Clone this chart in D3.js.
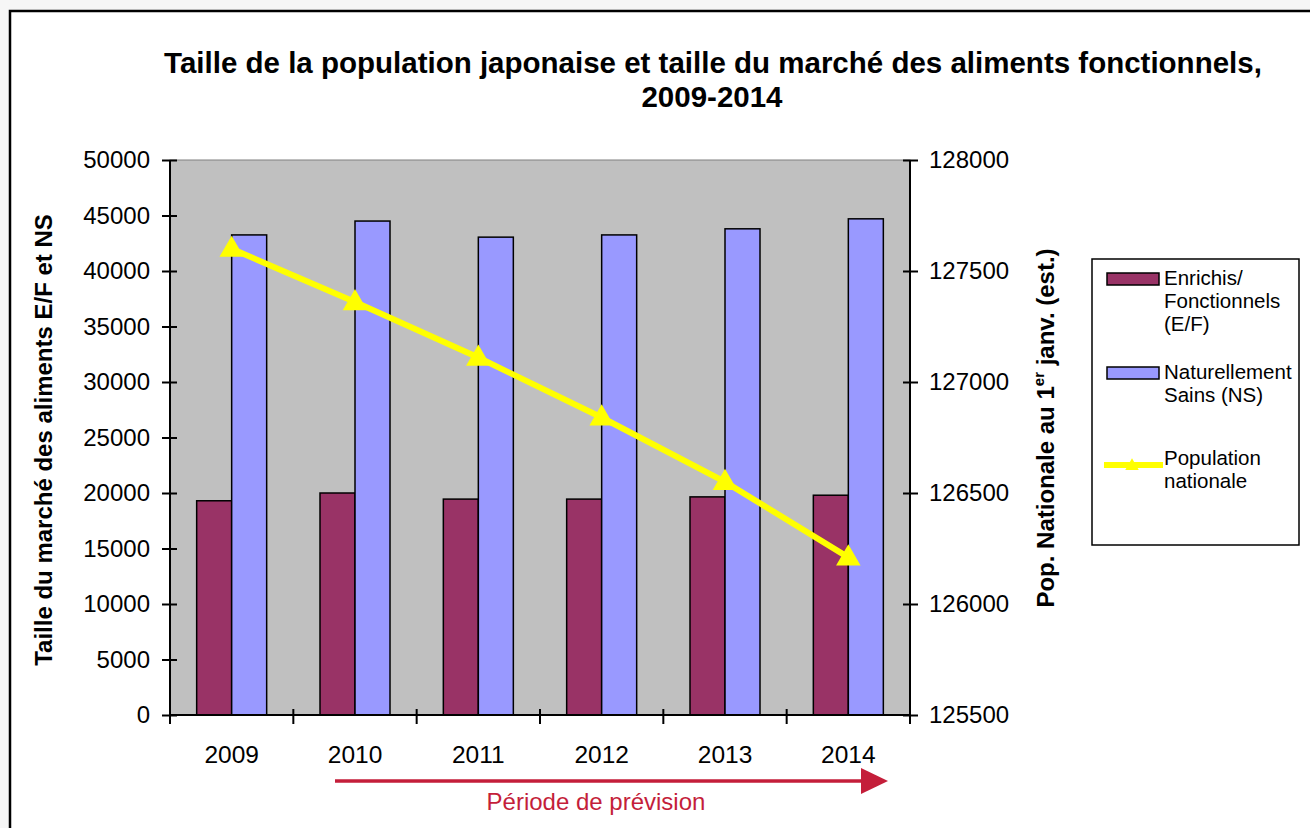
<!DOCTYPE html>
<html>
<head>
<meta charset="utf-8">
<script src="https://cdn.jsdelivr.net/npm/d3@7"></script>
<style>
  html, body { margin: 0; padding: 0; background: #f6f6f6; }
  svg { display: block; font-family: "Liberation Sans", Arial, sans-serif; }
</style>
</head>
<body>
<svg id="chart" width="1310" height="828"></svg>
<script>
const years = ["2009", "2010", "2011", "2012", "2013", "2014"];
const enrichis = [19300, 20000, 19450, 19450, 19650, 19800];
const naturels = [43250, 44500, 43050, 43250, 43800, 44700];
const population = [127600, 127360, 127110, 126840, 126550, 126210];
const leftTicks = [0, 5000, 10000, 15000, 20000, 25000, 30000, 35000, 40000, 45000, 50000];
const rightTicks = [125500, 126000, 126500, 127000, 127500, 128000];
const seriesNames = ["Enrichis/|Fonctionnels|(E/F)", "Naturellement|Sains (NS)", "Population|nationale"];

const svg = d3.select("#chart");
const W = 1310, H = 828;

// chart frame
svg.append("rect").attr("x", 10).attr("y", 11).attr("width", W + 10).attr("height", H + 10)
  .attr("fill", "#ffffff").attr("stroke", "#000").attr("stroke-width", 2.5);

const P = { left: 170, right: 910, top: 160, bottom: 715 };

const x = d3.scaleBand().domain(years).range([P.left, P.right]).paddingInner(0).paddingOuter(0);
const yL = d3.scaleLinear().domain([0, 50000]).range([P.bottom, P.top]);
const yR = d3.scaleLinear().domain([125500, 128000]).range([P.bottom, P.top]);

// plot background
svg.append("rect").attr("x", P.left).attr("y", P.top).attr("width", P.right - P.left)
  .attr("height", P.bottom - P.top).attr("fill", "#c0c0c0").attr("stroke", "#808080").attr("stroke-width", 1);

// bars
const bw = 35;
const g = svg.append("g");
g.selectAll("rect.ef").data(years).join("rect").attr("class", "ef")
  .attr("x", d => x(d) + x.bandwidth() / 2 - bw)
  .attr("y", (d, i) => yL(enrichis[i]))
  .attr("width", bw).attr("height", (d, i) => yL(0) - yL(enrichis[i]))
  .attr("fill", "#993366").attr("stroke", "#000").attr("stroke-width", 1.5);
g.selectAll("rect.ns").data(years).join("rect").attr("class", "ns")
  .attr("x", d => x(d) + x.bandwidth() / 2)
  .attr("y", (d, i) => yL(naturels[i]))
  .attr("width", bw).attr("height", (d, i) => yL(0) - yL(naturels[i]))
  .attr("fill", "#9999ff").attr("stroke", "#000").attr("stroke-width", 1.5);

// axes
const axL = svg.append("g").attr("transform", `translate(${P.left},0)`)
  .call(d3.axisLeft(yL).tickValues(leftTicks).tickFormat(d3.format("d")).tickSize(8).tickPadding(12));
axL.selectAll(".tick line").attr("x2", -8).attr("x1", 7).attr("stroke", "#000").attr("stroke-width", 2);
axL.select(".domain").attr("d", `M0,${P.top}V${P.bottom}`).attr("stroke", "#000").attr("stroke-width", 2);
axL.selectAll("text").attr("font-size", 24).attr("fill", "#000").attr("x", -20);

const axR = svg.append("g").attr("transform", `translate(${P.right},0)`)
  .call(d3.axisRight(yR).tickValues(rightTicks).tickFormat(d3.format("d")).tickSize(8));
axR.selectAll(".tick line").attr("x1", -7).attr("x2", 8).attr("stroke", "#000").attr("stroke-width", 2);
axR.select(".domain").attr("d", `M0,${P.top}V${P.bottom}`).attr("stroke", "#000").attr("stroke-width", 2);
axR.selectAll("text").attr("font-size", 24).attr("fill", "#000").attr("x", 19);

const axB = svg.append("g").attr("transform", `translate(0,${P.bottom})`)
  .call(d3.axisBottom(x).tickSize(0));
axB.select(".domain").attr("d", `M${P.left},0H${P.right}`).attr("stroke", "#000").attr("stroke-width", 2);
axB.selectAll("text").attr("font-size", 24.5).attr("fill", "#000").attr("y", 31);
// tick marks between categories
const bounds = years.map(d => x(d)).concat([P.right]);
axB.selectAll("line.sep").data(bounds).join("line").attr("class", "sep")
  .attr("x1", d => d).attr("x2", d => d).attr("y1", -6).attr("y2", 9)
  .attr("stroke", "#000").attr("stroke-width", 2);

// population line
const pts = years.map((d, i) => [x(d) + x.bandwidth() / 2, yR(population[i])]);
svg.append("path").attr("d", d3.line()(pts)).attr("fill", "none")
  .attr("stroke", "#ffff00").attr("stroke-width", 6);
const tri = d3.symbol().type(d3.symbolTriangle).size(260);
svg.selectAll("path.mk").data(pts).join("path").attr("class", "mk")
  .attr("d", tri).attr("transform", d => `translate(${d[0]},${d[1] + 1})`)
  .attr("fill", "#ffff00");

// title
const title = svg.append("text").attr("text-anchor", "middle").attr("font-weight", "bold")
  .attr("font-size", 29.5).attr("fill", "#000");
title.append("tspan").attr("x", 713).attr("y", 73)
  .text("Taille de la population japonaise et taille du marché des aliments fonctionnels,");
title.append("tspan").attr("x", 712).attr("y", 107).text("2009-2014");

// axis titles
svg.append("text").attr("transform", "translate(52,440) rotate(-90)").attr("text-anchor", "middle")
  .attr("font-weight", "bold").attr("font-size", 24).attr("fill", "#000")
  .text("Taille du marché des aliments E/F et NS");
const rt = svg.append("text").attr("transform", "translate(1054,428) rotate(-90)").attr("text-anchor", "middle")
  .attr("font-weight", "bold").attr("font-size", 24).attr("fill", "#000");
rt.append("tspan").text("Pop. Nationale au 1");
rt.append("tspan").attr("font-size", 15).attr("dy", -10).text("er");
rt.append("tspan").attr("dy", 10).text(" janv. (est.)");

// legend
const lg = svg.append("g");
lg.append("rect").attr("x", 1092).attr("y", 259).attr("width", 207).attr("height", 286)
  .attr("fill", "#fff").attr("stroke", "#000").attr("stroke-width", 1.5);
const legendY = [273, 367, 465];
const legendColors = ["#993366", "#9999ff", "#ffff00"];
seriesNames.forEach((name, i) => {
  if (i < 2) {
    lg.append("rect").attr("x", 1107).attr("y", legendY[i]).attr("width", 52).attr("height", 12)
      .attr("fill", legendColors[i]).attr("stroke", "#000").attr("stroke-width", 1.5);
  } else {
    lg.append("line").attr("x1", 1104).attr("x2", 1163).attr("y1", legendY[i]).attr("y2", legendY[i])
      .attr("stroke", "#ffff00").attr("stroke-width", 6);
    lg.append("path").attr("d", d3.symbol().type(d3.symbolTriangle).size(80))
      .attr("transform", `translate(1132,${legendY[i] + 1})`).attr("fill", "#ffff00");
  }
  const t = lg.append("text").attr("font-size", 20.5).attr("fill", "#000");
  const base = i < 2 ? legendY[i] + 12 : legendY[i];
  name.split("|").forEach((ln, k) => {
    t.append("tspan").attr("x", 1164).attr("y", base + k * 23).text(ln);
  });
});

// forecast arrow
const arrowColor = "#c41e3a";
svg.append("line").attr("x1", 335).attr("x2", 864).attr("y1", 781).attr("y2", 781)
  .attr("stroke", arrowColor).attr("stroke-width", 3.5);
svg.append("path").attr("d", "M861,768L888,781L861,794Z").attr("fill", arrowColor);
svg.append("text").attr("x", 596).attr("y", 810).attr("text-anchor", "middle")
  .attr("font-size", 24).attr("fill", arrowColor).text("Période de prévision");
</script>
</body>
</html>
